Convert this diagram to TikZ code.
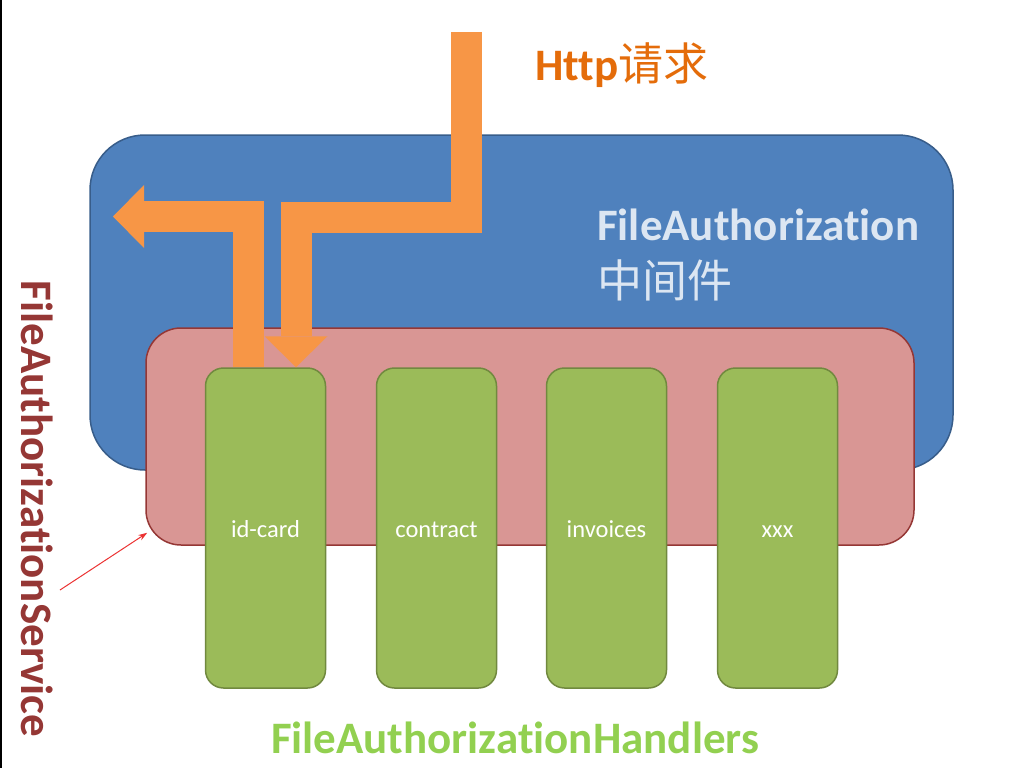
\documentclass[tikz,border=0pt]{standalone}
\usepackage{fontspec}
\setmainfont{Carlito}[Ligatures=CommonOff]
\newfontfamily\cjk{Noto Sans CJK SC}
\usetikzlibrary{arrows.meta,calc}
\definecolor{mwfill}{RGB}{79,129,189}
\definecolor{mwedge}{RGB}{56,93,138}
\definecolor{svfill}{RGB}{217,150,148}
\definecolor{svedge}{RGB}{149,55,53}
\definecolor{hdfill}{RGB}{155,187,89}
\definecolor{hdedge}{RGB}{113,137,63}
\definecolor{reqarr}{RGB}{247,150,70}
\definecolor{reqtxt}{RGB}{228,108,10}
\definecolor{mwtxt}{RGB}{220,230,242}
\definecolor{hdtxt}{RGB}{146,208,80}
\definecolor{ptr}{RGB}{235,50,50}
\tikzset{
  box/.style={draw, line width=1.5pt, inner sep=0pt},
  mw/.style={box, draw=mwedge, fill=mwfill, rounded corners=55pt},
  svc/.style={box, draw=svedge, fill=svfill, rounded corners=35pt},
  hd/.style={
    box, draw=hdedge, fill=hdfill, rounded corners=18pt,
    minimum width=120pt, minimum height=320pt,
    text height=18pt, text depth=0pt,
    text=white, font=\fontsize{24.5}{28}\selectfont
  },
  title/.style={font=\fontsize{45}{50}\selectfont\bfseries, inner sep=0pt},
  blk/.style={
    draw=reqarr, line width=31pt, line join=miter,
    -{Triangle[length=31pt,width=63pt,line width=0pt]}
  },
  ptrarr/.style={draw=ptr, line width=1pt, -{Stealth[length=9pt,width=6pt]}}
}

\begin{document}
\begin{tikzpicture}[x=1pt, y=-1pt]
  \useasboundingbox (0,0) rectangle (1024,768);
  \draw[line width=1.5pt] (0.75,0) -- (0.75,768);
  % middleware and service
  \node[mw, minimum width=863pt, minimum height=335pt] (mware) at (521.5,302.5) {};
  \node[svc, minimum width=768pt, minimum height=217pt] (svc) at (530,436.5) {};
  % handlers
  \foreach \n/\x/\t in {idcard/265.5/id-card, contract/436.5/contract,
                        invoices/606.5/invoices, xxx/777.5/xxx}
    \node[hd] (\n) at (\x,528) {\t};
  % request in and out
  \coordinate (req) at (466,32);
  \coordinate (resp) at (113,216.5);
  \draw[blk] ([xshift=-17pt]idcard.north) |- (resp);
  \draw[blk] (req) -- (466,217) -| ([xshift=30.5pt]idcard.north);
  % labels
  \node[title, text=reqtxt, anchor=west] (http) at (535,65) {Http{\cjk\mdseries 请求}};
  \node[title, text=mwtxt, anchor=west] (mwname) at (597,225) {FileAuthorization};
  \node[inner sep=0pt, text=mwtxt, anchor=west, font=\cjk\fontsize{45}{50}\selectfont]
    (mwcn) at (597,280) {中间件};
  \node[title, text=svedge, rotate=-90] (svcname) at (37,509) {FileAuthorizationService};
  \node[title, text=hdtxt] (hdname) at (515,738) {FileAuthorizationHandlers};
  \coordinate (ptrsrc) at (60,590);
  \draw[ptrarr] (ptrsrc) -- ($(svc.south west)+(2,-13)$);
\end{tikzpicture}
\end{document}
